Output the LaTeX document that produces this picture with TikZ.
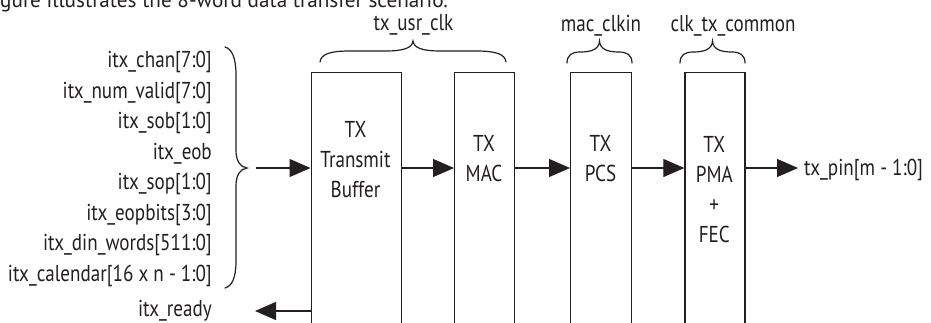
\documentclass[tikz,border=0pt]{standalone}
\usepackage{fontspec}
\setmainfont{PT Sans}[FakeStretch=0.83]
\newfontfamily\capfont{PT Sans}
\usetikzlibrary{arrows.meta}
\definecolor{ink}{HTML}{231F20}
\begin{document}
\begin{tikzpicture}[x=1pt,y=-1pt,
  every node/.style={font=\fontsize{23}{30}\selectfont, text=ink, inner sep=0pt},
  blk/.style={draw=ink, line width=1.2pt, anchor=north west, minimum height=275pt, inner sep=0pt},
  lbl/.style={anchor=base east},
  boxtext/.style={align=center},
  conn/.style={draw=ink, line width=1.2pt, -{Triangle[length=21pt,width=18pt]}},
  brc/.style={draw=ink, line width=1.2pt, line cap=round}]
\useasboundingbox (0,0) rectangle (931,322);

% caption line, cut at the top as in the reference
\node[anchor=base west, font=\capfont\fontsize{21.2}{25}\selectfont] (cap) at (0,7) {gure illustrates the 8-word data transfer scenario.};

% blocks
\node[blk, minimum width=90pt] (tb)  at (310.5,72) {};
\node[blk, minimum width=60pt] (mac) at (454,72) {};
\node[blk, minimum width=61pt] (pcs) at (570,72) {};
\node[blk, minimum width=60pt] (pma) at (684.3,72) {};

\node[boxtext] (tbt)  at (355.5,160) {TX\\Transmit\\Buffer};
\node[boxtext] (mact) at (484,158.5) {TX\\MAC};
\node[boxtext] (pcst) at (600.5,158.5) {TX\\PCS};
\node[boxtext] (pmat) at (714.3,190) {TX\\PMA\\+\\FEC};

% input labels
\node[lbl] (l1) at (212,67.5)  {itx\_chan[7:0]};
\node[lbl] (l2) at (212,98)    {itx\_num\_valid[7:0]};
\node[lbl] (l3) at (212,128.5) {itx\_sob[1:0]};
\node[lbl] (l4) at (212,159)   {itx\_eob};
\node[lbl] (l5) at (212,189.5) {itx\_sop[1:0]};
\node[lbl] (l6) at (212,220)   {itx\_eopbits[3:0]};
\node[lbl] (l7) at (212,250.5) {itx\_din\_words[511:0]};
\node[lbl] (l8) at (212,281)   {itx\_calendar[16 x n - 1:0]};
\node[lbl] (l9) at (212,316)   {itx\_ready};

% output label
\node[anchor=base west] (pin) at (804,175) {tx\_pin[m - 1:0]};

% clock labels
\node[anchor=base] (uclk) at (413.5,30) {tx\_usr\_clk};
\node[anchor=base] (mclk) at (601,31)   {mac\_clkin};
\node[anchor=base] (cclk) at (733,31)   {clk\_tx\_common};

% braces
\draw[brc] (225,47) .. controls (232,49) and (236,58) .. (236,75) -- (236,150)
  .. controls (236,161) and (240,167) .. (247,168)
  .. controls (240,169) and (236,175) .. (236,186) -- (236,261)
  .. controls (236,278) and (232,286) .. (225,288);
\draw[brc] (320,62) .. controls (321,54) and (330,51) .. (350,51) -- (385,51)
  .. controls (404,51) and (412,48) .. (413,41)
  .. controls (414,48) and (422,51) .. (441,51) -- (476,51)
  .. controls (496,51) and (505,54) .. (506,62);
\draw[brc] (567,63) .. controls (567,55) and (572,52) .. (580,52)
  .. controls (592,52) and (599,49) .. (599.5,41)
  .. controls (600,49) and (607,52) .. (619,52)
  .. controls (627,52) and (632,55) .. (632,63);
\draw[brc] (680,63) .. controls (680,55) and (685,52) .. (693,52)
  .. controls (705,52) and (712,49) .. (712.5,41)
  .. controls (713,49) and (720,52) .. (732,52)
  .. controls (740,52) and (745,55) .. (745,63);

% connectors
\coordinate (row) at (0,168);
\coordinate (in)  at (255.7,168);
\coordinate (rdy) at (255,311);
\coordinate (out) at (798,168);
\draw[conn] (in) -- (tb.west |- row);
\draw[conn] (tb.east |- row) -- (mac.west |- row);
\draw[conn] (mac.east |- row) -- (pcs.west |- row);
\draw[conn] (pcs.east |- row) -- (pma.west |- row);
\draw[conn] (pma.east |- row) -- (out);
\draw[conn] (tb.west |- rdy) -- (rdy);
\end{tikzpicture}
\end{document}
